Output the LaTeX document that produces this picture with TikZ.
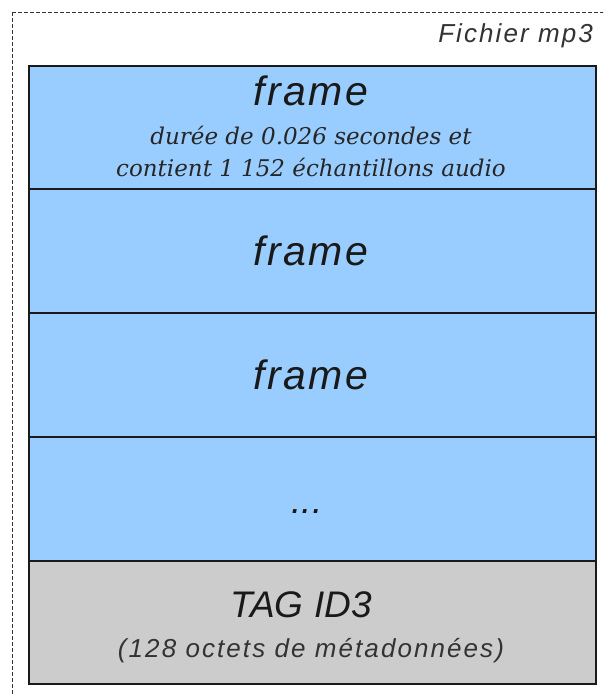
\documentclass[tikz,border=0pt]{standalone}
\usepackage{fontspec}
\setmainfont{DejaVu Serif}
\setsansfont{Liberation Sans}
\newfontfamily\bigsans[LetterSpace=6]{Liberation Sans}
\newfontfamily\widesans[LetterSpace=8]{Liberation Sans}
\definecolor{frameblue}{HTML}{99CCFF}
\definecolor{taggray}{HTML}{CCCCCC}
\definecolor{edge}{HTML}{1A1A1A}
\begin{document}
\begin{tikzpicture}[x=1pt,y=-1pt,
  block/.style={draw=edge,line width=1.6pt,minimum width=567pt,inner sep=0pt,anchor=north west},
  big/.style={font=\bigsans\itshape\fontsize{41}{44}\selectfont,text=black!90},
  tagtext/.style={font=\sffamily\itshape\fontsize{37}{40}\selectfont,text=black!90},
  small/.style={font=\widesans\itshape\fontsize{26}{28}\selectfont,text=black!80},
  serifnote/.style={font=\rmfamily\itshape\fontsize{23}{32}\selectfont,text=black!85,align=center,inner sep=0pt}]
\useasboundingbox (0,0) rectangle (603,695);
\begin{scope}
\clip (0,0) rectangle (603,695);
\draw[line width=0.8pt,dash pattern=on 4pt off 2pt,black!80] (12,12) rectangle (620,720);
\end{scope}
\node[anchor=base east,small,inner sep=0pt] (title) at (593,43) {Fichier mp3};
\node[block,fill=frameblue,minimum height=123pt] (f1) at (28,65) {};
\node[block,fill=frameblue,minimum height=124pt] (f2) at (28,188) {};
\node[block,fill=frameblue,minimum height=124pt] (f3) at (28,312) {};
\node[block,fill=frameblue,minimum height=124pt] (f4) at (28,436) {};
\node[block,fill=taggray,minimum height=123pt] (tag) at (28,560) {};
\node[big,anchor=base] (t1) at (311,106) {frame};
\node[serifnote,anchor=north] (n1) at (311,126) {durée de 0.026 secondes et\\contient 1 152 échantillons audio};
\node[big,anchor=base] (t2) at (311,265) {frame};
\node[big,anchor=base] (t3) at (311,389) {frame};
\node[tagtext,anchor=base] (t4) at (307,513) {...};
\node[tagtext,anchor=base] (t5) at (301,617) {TAG ID3};
\node[small,anchor=base] (n5) at (311,657) {(128 octets de métadonnées)};
\end{tikzpicture}
\end{document}
